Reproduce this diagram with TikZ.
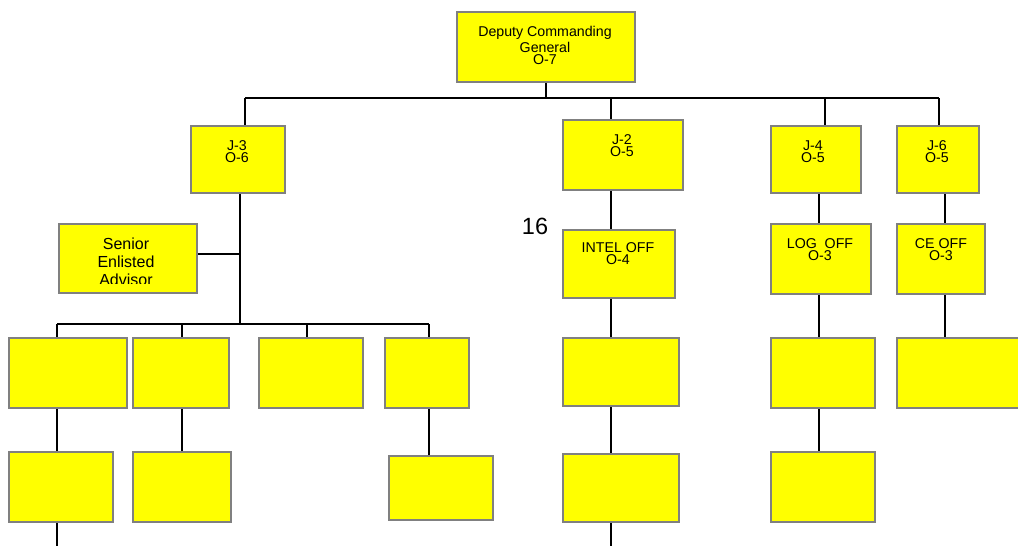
\documentclass[tikz,border=0pt]{standalone}
\usepackage{fontspec}
\setmainfont{Liberation Sans}
\usetikzlibrary{backgrounds}
\definecolor{boxyellow}{RGB}{255,255,0}
\definecolor{boxgray}{RGB}{128,128,128}
\tikzset{
  orgbox/.style={draw=boxgray, fill=boxyellow, line width=1.6pt, inner sep=0pt, outer sep=0pt},
  link/.style={line width=1.8pt, black},
  lbl/.style={font=\fontsize{14.2}{14}\selectfont, anchor=base, inner sep=0pt},
  sealbl/.style={font=\fontsize{16}{16}\selectfont, anchor=base, inner sep=0pt},
}
% box from its corners (x1,y1) to (x2,y2)
\newcommand\orgnode[5]{%
  \node[orgbox, minimum width={#4-#2}, minimum height={#5-#3}] (#1) at ({(#2+#4)/2},{(#3+#5)/2}) {};}
\begin{document}
\begin{tikzpicture}[x=1pt,y=-1pt]
\useasboundingbox (0,0) rectangle (1018,546);

% boxes
\orgnode{dcg}{457}{12}{635}{82}
\orgnode{j3}{191}{126}{285}{193}
\orgnode{sea}{59}{224}{197}{293}
\orgnode{j2}{563}{120}{683}{190}
\orgnode{j4}{771}{126}{861}{193}
\orgnode{j6}{897}{126}{979}{193}
\orgnode{intel}{563}{230}{675}{298}
\orgnode{log}{771}{224}{871}{294}
\orgnode{ce}{897}{224}{985}{294}
\orgnode{b1}{9}{338}{127}{408}
\orgnode{b2}{133}{338}{229}{408}
\orgnode{b3}{259}{338}{363}{408}
\orgnode{b4}{385}{338}{469}{408}
\orgnode{c1}{9}{452}{113}{522}
\orgnode{c2}{133}{452}{231}{522}
\orgnode{c4}{389}{456}{493}{520}
\orgnode{i1}{563}{338}{679}{406}
\orgnode{i2}{563}{454}{679}{522}
\orgnode{l1}{771}{338}{875}{408}
\orgnode{l2}{771}{452}{875}{522}
\orgnode{e1}{897}{338}{1040}{408}

% box texts
\node[lbl] (tdcg1) at (545,36.3) {Deputy Commanding};
\node[lbl] (tdcg2) at (545,52) {General};
\node[lbl] (tdcg3) at (545,64.8) {O-7};
\node[lbl] (tj3a) at (237,150) {J-3};
\node[lbl] (tj3b) at (237,162.7) {O-6};
\node[lbl] (tj2a) at (622,144) {J-2};
\node[lbl] (tj2b) at (622,156.7) {O-5};
\node[lbl] (tj4a) at (813,150) {J-4};
\node[lbl] (tj4b) at (813,162.3) {O-5};
\node[lbl] (tj6a) at (937,150) {J-6};
\node[lbl] (tj6b) at (937,162.3) {O-5};
\node[lbl] (tinta) at (618,252) {INTEL OFF};
\node[lbl] (tintb) at (618,264.3) {O-4};
\node[lbl] (tloga) at (820,248) {LOG\ \ OFF};
\node[lbl] (tlogb) at (820,260.3) {O-3};
\node[lbl] (tcea) at (941,248) {CE OFF};
\node[lbl] (tceb) at (941,260.3) {O-3};
\begin{scope}
  % the last line is cut off by the box's text area
  \clip (59,224) rectangle (197,283.5);
  \node[sealbl] (tseaa) at (126,249) {Senior};
  \node[sealbl] (tseab) at (126,267) {Enlisted};
  \node[sealbl] (tseac) at (126,285.5) {Advisor};
\end{scope}
\node[font=\fontsize{23.5}{24}\selectfont, anchor=base, inner sep=0pt] (num) at (535,234.5) {16};

% junction points of the connectors
\coordinate (topbus) at (0,98);
\coordinate (midbus) at (0,324);
\coordinate (bottom) at (0,546);
\coordinate (j3in) at ([xshift=7pt]j3.north);
\coordinate (j2in) at ([xshift=-12pt]j2.north);
\coordinate (j4in) at ([xshift=9pt]j4.north);
\coordinate (j6in) at ([xshift=1pt]j6.north);
\coordinate (j3out) at ([xshift=2pt]j3.south);
\coordinate (j4out) at ([xshift=3pt]j4.south);
\coordinate (j6out) at ([xshift=7pt]j6.south);
\coordinate (b1in) at ([xshift=-11pt]b1.north);
\coordinate (b2in) at ([xshift=1pt]b2.north);
\coordinate (b3in) at ([xshift=-4pt]b3.north);
\coordinate (b4in) at ([xshift=2pt]b4.north);

\begin{scope}[on background layer]
  \fill[white] (0,0) rectangle (1018,546);
  % top level
  \draw[link] (dcg.south) -- (dcg.south |- topbus);
  \draw[link] (j3in |- topbus) -- (j6in |- topbus);
  \draw[link] (j3in) -- (j3in |- topbus);
  \draw[link] (j2in) -- (j2in |- topbus);
  \draw[link] (j4in) -- (j4in |- topbus);
  \draw[link] (j6in) -- (j6in |- topbus);
  % J-3 branch
  \draw[link] (j3out) -- (j3out |- midbus);
  \draw[link] ([yshift=4.5pt]sea.east) -- ([yshift=4.5pt]sea.east -| j3out);
  \draw[link] (b1in |- midbus) -- (b4in |- midbus);
  \draw[link] (b1in) -- (b1in |- midbus);
  \draw[link] (b2in) -- (b2in |- midbus);
  \draw[link] (b3in) -- (b3in |- midbus);
  \draw[link] (b4in) -- (b4in |- midbus);
  \draw[link] (b1in |- b1.south) -- (b1in |- c1.north);
  \draw[link] (b1in |- c1.south) -- (b1in |- bottom);
  \draw[link] ([xshift=1pt]b2.south) -- ([xshift=1pt]b2.south |- c2.north);
  \draw[link] (b4in |- b4.south) -- (b4in |- c4.north);
  % J-2 branch
  \draw[link] (j2in |- j2.south) -- (j2in |- intel.north);
  \draw[link] (j2in |- intel.south) -- (j2in |- i1.north);
  \draw[link] (j2in |- i1.south) -- (j2in |- i2.north);
  \draw[link] (j2in |- i2.south) -- (j2in |- bottom);
  % J-4 branch
  \draw[link] (j4out) -- (j4out |- log.north);
  \draw[link] (j4out |- log.south) -- (j4out |- l1.north);
  \draw[link] (j4out |- l1.south) -- (j4out |- l2.north);
  % J-6 branch
  \draw[link] (j6out) -- (j6out |- ce.north);
  \draw[link] (j6out |- ce.south) -- (j6out |- e1.north);
\end{scope}
\end{tikzpicture}
\end{document}
